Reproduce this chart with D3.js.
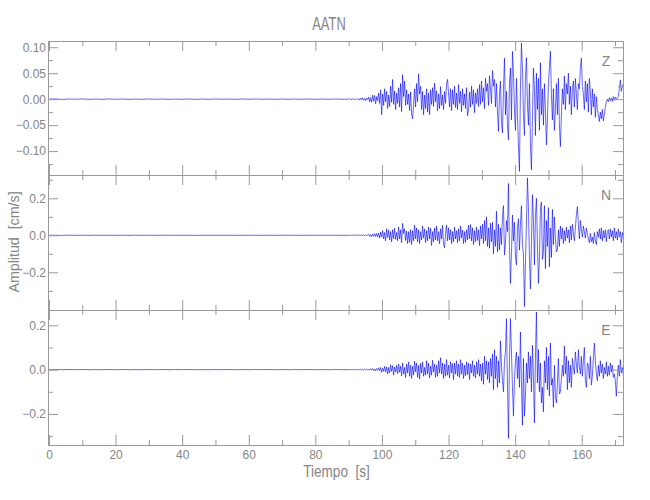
<!DOCTYPE html>
<html><head><meta charset="utf-8">
<script src="https://cdn.jsdelivr.net/npm/d3@7"></script>
<style>body{margin:0;background:#fff}</style>
</head><body>
<svg id="c" width="650" height="500"></svg>
<script>
// ---------- data ----------
const title = "AATN";
const components = ["Z", "N", "E"];
const xLabel = "Tiempo  [s]";
const yLabel = "Amplitud  [cm/s]";
const xDomain = [-0.3, 172.4];
const xTicks = [0, 20, 40, 60, 80, 100, 120, 140, 160];
const xMinorTicks = [10, 30, 50, 70, 90, 110, 130, 150, 170];
const yDomainZ = [-0.146, 0.112];
const yDomainN = [-0.404, 0.326];
const yDomainE = [-0.340, 0.269];
const yTicksZ = [-0.10, -0.05, 0.00, 0.05, 0.10];
const yTickLabelsZ = ["\u22120.10", "\u22120.05", "0.00", "0.05", "0.10"];
const yMinorZ = [-0.125, -0.075, -0.025, 0.025, 0.075];
const yTicksN = [-0.2, 0.0, 0.2];
const yTickLabelsN = ["\u22120.2", "0.0", "0.2"];
const yMinorN = [-0.3, -0.1, 0.1, 0.3];
const yTicksE = [-0.2, 0.0, 0.2];
const yTickLabelsE = ["\u22120.2", "0.0", "0.2"];
const yMinorE = [-0.3, -0.1, 0.1];

// sampling of the traces (seconds)
const preStart = 0, preDt = 2;       // quiet part before the event
const eventStart = 90, eventDt = 0.3; // event part
// amplitudes in units of 0.001 cm/s
const zPre = [0,0.5,-0.6,0.4,-0.3,0.6,-0.5,0.3,-0.4,0.5,-0.2,0.3,-0.4,0.2,-0.3,0.4,-0.2,0.3,-0.3,0.2,-0.2,0.3,-0.4,0.2,-0.3,0.3,-0.2,0.2,-0.3,0.4,-0.2,0.3,-0.2,0.2,-0.3,0.3,-0.2,0.2,-0.2,0.3,-0.3,0.2,-0.2,0.3,-0.2];
const nPre = [0,0.4,-0.5,0.6,-0.4,0.3,-0.5,0.4,-0.3,0.5,-0.4,0.3,-0.5,0.4,-0.3,0.3,-0.4,0.5,-0.3,0.4,-0.4,0.3,-0.5,0.4,-0.3,0.5,-0.4,0.3,-0.4,0.5,-0.3,0.4,-0.5,0.3,-0.4,0.5,-0.3,0.4,-0.5,0.4,-0.3,0.5,-0.4,0.3,-0.4];
const ePre = [0,0.3,-0.4,0.5,-0.3,0.4,-0.5,0.3,-0.4,0.4,-0.3,0.5,-0.4,0.3,-0.5,0.4,-0.3,0.4,-0.4,0.5,-0.3,0.4,-0.5,0.3,-0.4,0.4,-0.3,0.5,-0.4,0.3,-0.4,0.5,-0.3,0.4,-0.4,0.3,-0.5,0.4,-0.3,0.4,-0.4,0.3,-0.5,0.4,-0.3];
const zEvent = [
0,1,0,-1,1,0,-1,1,-1,0,
1,-2,2,-1,3,-2,1,-3,2,-1,
4,-5,3,-6,8,-4,7,-9,5,-3,
12,-8,18,-30,10,-12,20,-5,15,-18,
8,-14,25,-6,38,-10,16,-20,12,-8,
22,-15,30,-24,47,5,35,-12,18,-10,
10,-22,14,-28,-38,-10,20,-15,30,-5,
49,10,25,-20,15,-30,8,-18,20,-25,
12,-30,18,-10,22,-14,31,-5,16,-22,
10,-18,24,-12,8,-20,15,-8,30,38,
12,-15,20,-22,18,-10,25,-16,12,-20,
28,-8,15,-24,20,-12,10,-18,22,-32,
-20,14,-15,25,-10,18,-26,12,-8,20,
-14,28,-10,35,-5,22,-18,40,15,30,
-12,45,20,-8,55,25,38,-15,30,-25,
-62,10,35,-45,-65,20,79,-30,15,-50,
-78,30,60,-40,92,50,-20,-60,40,-30,
-90,-139,20,108,60,-30,-70,40,80,-10,
-50,30,-90,-136,-40,60,20,-70,50,-20,
40,-60,70,-30,20,-50,30,-20,-88,-40,
30,60,92,10,-40,20,-60,-20,30,-30,
40,-50,-91,-30,20,-10,45,-20,30,10,
50,-10,25,-30,20,35,-15,40,10,-20,
30,20,60,79,25,10,-20,35,-5,30,
-25,40,15,-30,20,-15,10,-35,5,-20,
-30,-43,-25,-38,-20,-42,-30,-15,-5,0,
-5,3,-3,2,-4,5,-2,4,0,3,
5,20,37,15,25,30,20];
const nEvent = [
0,1,-1,0,1,-1,0,2,-1,1,
-2,2,-3,3,-2,4,-3,2,-4,3,
5,-6,4,-8,6,-5,9,-7,10,-8,
12,-15,18,-10,25,-20,15,-30,35,-12,
28,-25,20,-35,30,-18,38,-22,15,-30,
45,-20,30,-40,65,10,35,-28,22,-45,
20,-38,30,-50,25,-30,56,-20,40,-35,
30,-45,20,-25,50,-15,35,-40,25,-30,
45,-20,38,-55,20,-35,40,-25,50,-30,
20,-45,35,-20,55,-50,-67,10,56,-30,
40,-25,30,-45,20,-35,45,-20,25,-40,
35,-30,50,-15,28,-45,20,-38,30,-25,
55,-20,58,-30,40,-50,25,-35,45,-28,
30,-55,50,-20,60,-45,80,-30,100,-60,
40,-70,65,-35,70,-100,30,-60,130,-90,
60,-80,40,-50,100,160,-106,-40,80,20,
280,-60,-260,-100,110,-30,70,-120,-160,40,
90,-80,60,160,-60,-100,-385,-150,60,310,
150,-120,-290,-50,220,80,-160,100,200,-50,
-260,-120,150,180,-130,-90,160,-180,80,-60,
150,-170,40,-120,140,-50,100,-20,-90,-80,
30,-60,50,-20,40,-45,25,-30,45,-15,
30,-40,50,-25,60,10,-30,40,110,155,
60,-20,80,30,-10,50,20,-15,40,10,
-20,-40,10,-35,-10,-45,15,-30,-50,20,
-10,35,-20,40,-30,25,-15,30,-35,20,
30,-20,35,-10,25,-30,40,-15,20,-25,
35,-10,20,-40,15,-20,10];
const eEvent = [
0,0,1,-1,0,1,-1,0,1,-1,
1,-1,2,-1,1,-2,2,-1,3,-2,
2,-3,4,-2,5,-4,3,-6,5,-3,
8,-5,10,-12,6,-8,15,-10,12,-20,
10,-15,22,-8,18,-25,12,-10,20,-18,
25,-12,15,-28,30,-20,10,-35,25,-15,
35,-30,20,-40,15,-25,38,-10,30,-35,
20,-42,28,-15,35,-30,10,-25,40,-20,
30,-38,15,-25,42,-10,25,-35,20,-30,
40,-15,54,-20,30,-40,25,-30,45,-25,
20,-38,35,-15,28,-45,30,-20,40,-30,
25,-35,45,-20,30,-40,20,-28,35,-22,
30,-45,25,-15,40,-30,20,-38,35,-20,
45,-30,25,-50,30,-66,60,-20,40,-45,
35,-60,50,-30,70,-90,90,-40,60,-80,
40,-60,130,20,-50,-100,40,80,230,-60,
-310,30,230,80,-80,-210,-50,40,80,-40,
60,-80,170,-60,-250,50,-210,-120,30,-60,
80,-40,60,-100,110,-30,-240,50,260,-60,
90,-100,30,-150,-80,-190,40,-60,100,-90,
60,-120,120,-70,-40,-170,20,-120,-150,-60,
50,-110,-100,-40,20,-30,107,-20,60,-90,
40,-60,20,-80,50,10,-20,80,25,-15,
90,10,-20,60,-30,40,100,-50,-80,30,
20,-40,60,-70,-30,50,120,40,-20,-50,
20,-30,40,-15,25,-40,10,-20,35,-30,
15,-25,30,-10,20,-35,-20,-50,-120,-30,
20,-30,45,-15,10,-25,5];

// ---------- drawing ----------
const svg = d3.select("#c");
const FONT = "'Liberation Sans Narrow','Liberation Sans',sans-serif";
const AXC = "#9a9a9a", TXC = "#858585";
const L = 48, R = 623;
const tops = [41, 175, 310], bottoms = [175, 310, 445];
const x = d3.scaleLinear().domain(xDomain).range([L, R]);

function series(pre, ev) {
  const pts = pre.map((v, i) => ({t: preStart + i * preDt, v: v / 1000}));
  ev.forEach((v, i) => pts.push({t: eventStart + i * eventDt, v: v / 1000}));
  return pts;
}
const panels = [
  {name: components[0], data: series(zPre, zEvent), dom: yDomainZ, major: yTicksZ, labels: yTickLabelsZ, minor: yMinorZ},
  {name: components[1], data: series(nPre, nEvent), dom: yDomainN, major: yTicksN, labels: yTickLabelsN, minor: yMinorN},
  {name: components[2], data: series(ePre, eEvent), dom: yDomainE, major: yTicksE, labels: yTickLabelsE, minor: yMinorE}
];

function styleAxis(g) {
  g.selectAll("line,path").attr("stroke", AXC).attr("stroke-width", 1);
  g.selectAll("text").attr("fill", TXC).style("font-family", FONT).style("font-size", "12px");
}

panels.forEach((p, k) => {
  const y = d3.scaleLinear().domain(p.dom).range([bottoms[k], tops[k]]);
  const g = svg.append("g");
  g.append("clipPath").attr("id", "clip" + k).append("rect")
    .attr("x", L).attr("y", tops[k]).attr("width", R - L).attr("height", bottoms[k] - tops[k]);
  const line = d3.line().x(d => x(d.t)).y(d => y(d.v));
  g.append("path").datum(p.data).attr("d", line).attr("clip-path", `url(#clip${k})`)
    .attr("fill", "none").attr("stroke", "#0000ff").attr("stroke-width", 0.6);

  // left axis (major + minor)
  g.append("g").attr("transform", `translate(${L},0)`)
    .call(d3.axisLeft(y).tickValues(p.major).tickSize(-10).tickSizeOuter(0).tickPadding(2)
      .tickFormat((d, i) => p.labels[i])).call(styleAxis);
  g.append("g").attr("transform", `translate(${L},0)`)
    .call(d3.axisLeft(y).tickValues(p.minor).tickSize(-5).tickSizeOuter(0).tickFormat("")).call(styleAxis);
  // right axis
  g.append("g").attr("transform", `translate(${R},0)`)
    .call(d3.axisRight(y).tickValues(p.major).tickSize(-10).tickSizeOuter(0).tickFormat("")).call(styleAxis);
  g.append("g").attr("transform", `translate(${R},0)`)
    .call(d3.axisRight(y).tickValues(p.minor).tickSize(-5).tickSizeOuter(0).tickFormat("")).call(styleAxis);
  // top axis
  g.append("g").attr("transform", `translate(0,${tops[k]})`)
    .call(d3.axisTop(x).tickValues(xTicks).tickSize(-10).tickSizeOuter(0).tickFormat("")).call(styleAxis);
  g.append("g").attr("transform", `translate(0,${tops[k]})`)
    .call(d3.axisTop(x).tickValues(xMinorTicks).tickSize(-5).tickSizeOuter(0).tickFormat("")).call(styleAxis);
  // bottom axis
  const last = k === panels.length - 1;
  g.append("g").attr("transform", `translate(0,${bottoms[k]})`)
    .call(d3.axisBottom(x).tickValues(xTicks).tickSize(-10).tickSizeOuter(0).tickPadding(5)
      .tickFormat(last ? d3.format("d") : "")).call(styleAxis);
  g.append("g").attr("transform", `translate(0,${bottoms[k]})`)
    .call(d3.axisBottom(x).tickValues(xMinorTicks).tickSize(-5).tickSizeOuter(0).tickFormat("")).call(styleAxis);

  // component label
  g.append("text").attr("x", 606).attr("y", tops[k] + 25).attr("text-anchor", "middle")
    .attr("fill", TXC).style("font-family", FONT).style("font-size", "14px").text(p.name);
});

// title
svg.append("text").attr("transform", "translate(329,30) scale(0.68,1)").attr("text-anchor", "middle")
  .attr("fill", TXC).style("font-family", FONT).style("font-size", "19px").text(title);
// x label
svg.append("text").attr("transform", "translate(336.5,477) scale(0.85,1)").attr("text-anchor", "middle")
  .attr("fill", TXC).style("font-family", FONT).style("font-size", "16px").style("white-space", "pre").text(xLabel);
// y label
svg.append("text").attr("transform", "translate(18.5,242) rotate(-90) scale(0.95,1)").attr("text-anchor", "middle")
  .attr("fill", TXC).style("font-family", FONT).style("font-size", "15px").style("white-space", "pre").text(yLabel);
</script>
</body></html>
